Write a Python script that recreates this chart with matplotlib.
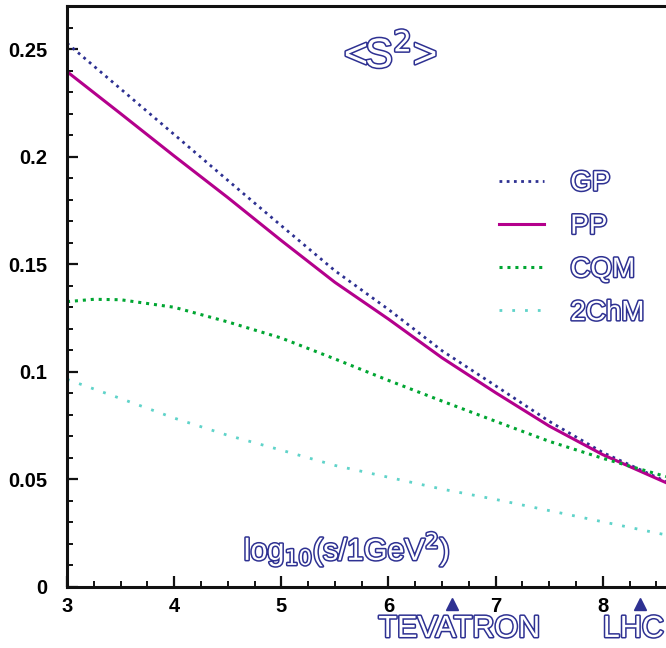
import matplotlib
matplotlib.use("Agg")
import matplotlib.pyplot as plt
import matplotlib.patheffects as pe
from matplotlib.ticker import MultipleLocator, FixedLocator, FixedFormatter

# log10(s / 1 GeV^2)
x = [3.0, 3.5, 4.0, 4.5, 5.0, 5.5, 6.0, 6.5, 7.0, 7.5, 8.0, 8.59]

# survival probability <S^2> for the four models
gp = [0.2527, 0.2315, 0.2103, 0.1890, 0.1679, 0.1470, 0.1290, 0.1098, 0.0935, 0.0770, 0.0625, 0.0490]
pp = [0.2395, 0.2200, 0.2003, 0.1810, 0.1610, 0.1416, 0.1245, 0.1065, 0.0903, 0.0748, 0.0615, 0.0485]
cqm_x = [3.0, 3.25, 3.5, 4.0, 4.5, 5.0, 5.5, 6.0, 6.5, 7.0, 7.5, 8.0, 8.59]
cqm = [0.1326, 0.1337, 0.1335, 0.1300, 0.1232, 0.1157, 0.1060, 0.0960, 0.0864, 0.0770, 0.0677, 0.0598, 0.0513]
chm = [0.0965, 0.0876, 0.0785, 0.0705, 0.0636, 0.0565, 0.0510, 0.0455, 0.0407, 0.0355, 0.0303, 0.0242]

# collider energies (log10 s)
colliders = ["TEVATRON", "LHC"]
collider_x = [6.59, 8.35]

yticks = [0, 0.05, 0.1, 0.15, 0.2, 0.25]
ytick_labels = ["0", "0.05", "0.1", "0.15", "0.2", "0.25"]

navy = "#2e3192"
magenta = "#b4008c"
green = "#00a632"
cyan = "#5fd3c9"

fig = plt.figure(figsize=(6.66, 6.48), dpi=100)
ax = fig.add_axes([67 / 666, 61 / 648, 599 / 666, 581 / 648])

ax.plot(x, gp, color=navy, lw=2.0, ls=(0, (1, 1.6)), label="GP")
ax.plot(x, pp, color=magenta, lw=2.2, ls="-", label="PP")
ax.plot(cqm_x, cqm, color=green, lw=2.2, ls=(0, (1, 1.6)), label="CQM")
ax.plot(x, chm, color=cyan, lw=2.0, ls=(0, (1, 3.6)), label="2ChM")

ax.set_xlim(3, 8.59)
ax.set_ylim(0, 0.27)

ax.xaxis.set_major_locator(MultipleLocator(1))
ax.xaxis.set_minor_locator(MultipleLocator(0.25))
ax.yaxis.set_major_locator(FixedLocator(yticks))
ax.yaxis.set_major_formatter(FixedFormatter(ytick_labels))
ax.yaxis.set_minor_locator(MultipleLocator(0.01))

ax.tick_params(which="both", direction="in", top=False, right=False, color="#111111")
ax.tick_params(which="major", length=8, width=1.6)
ax.tick_params(which="minor", length=4, width=1.4)
ax.tick_params(axis="y", which="major", pad=14)
ax.tick_params(axis="x", which="major", pad=7)
for lab in ax.get_xticklabels() + ax.get_yticklabels():
    lab.set_fontweight("bold")
    lab.set_fontsize(14.5)
    lab.set_fontfamily("Liberation Sans")

ax.spines["right"].set_visible(False)
for s in ["left", "bottom", "top"]:
    ax.spines[s].set_linewidth(2.2)
    ax.spines[s].set_color("#111111")

hollow = [pe.withStroke(linewidth=2.2, foreground=navy)]

ax.text(0.54, 0.915, r"<S$^{2}$>", transform=ax.transAxes,
        ha="center", va="center", fontsize=30, color="white",
        family="Liberation Sans", path_effects=hollow)

ax.text(5.61, 0.0172, r"log$_{10}$(s/1GeV$^{2}$)", ha="center", va="center",
        fontsize=22, color="white", family="Liberation Sans", path_effects=hollow)

ax.plot(collider_x, [-0.0079] * len(collider_x), ls="none", marker="^",
        ms=9, color=navy, clip_on=False)
ax.text(collider_x[0] + 0.07, -0.0195, colliders[0], ha="center", va="center",
        fontsize=22, color="white", family="Liberation Sans",
        path_effects=hollow, clip_on=False)
# LHC sits at the right edge of the frame
ax.text(8.0, -0.0195, colliders[1], ha="left", va="center",
        fontsize=22, color="white", family="Liberation Sans",
        path_effects=hollow, clip_on=False)

leg = ax.legend(loc="upper left", bbox_to_anchor=(0.722, 0.717), frameon=False,
                handlelength=1.6, handletextpad=0.95, labelspacing=0.62,
                borderpad=0, borderaxespad=0,
                prop={"family": "Liberation Sans", "size": 20})
for t in leg.get_texts():
    t.set_color("white")
    t.set_path_effects(hollow)

fig.savefig("out.png", dpi=100)
